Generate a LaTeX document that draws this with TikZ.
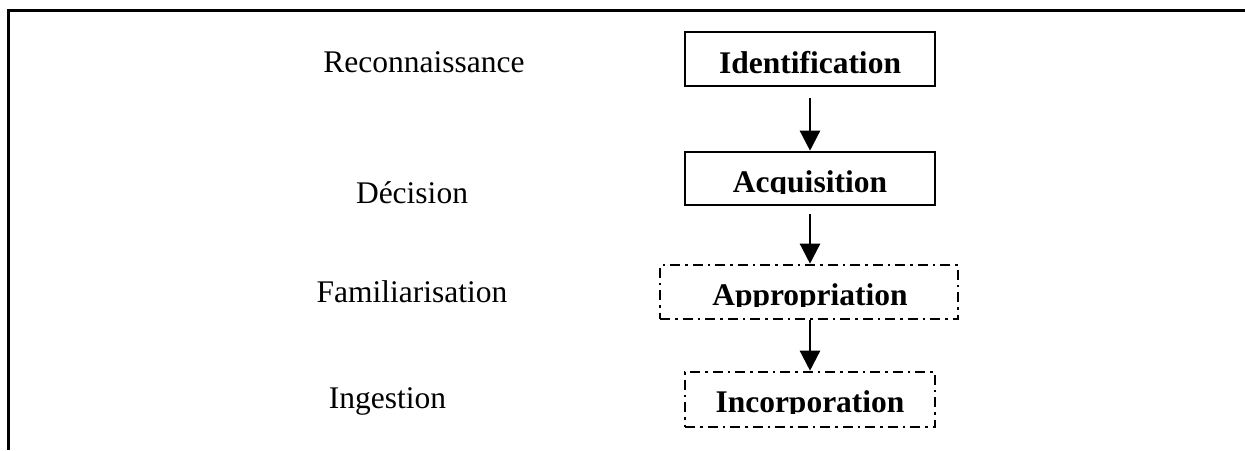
\documentclass[tikz,border=0pt]{standalone}
\usepackage{fontspec}
\setmainfont{Liberation Serif}
\usetikzlibrary{arrows.meta}
\begin{document}
\begin{tikzpicture}[x=1pt,y=-1pt,
  stage/.style={draw, line width=2.6pt, minimum width=250pt, minimum height=54pt, inner sep=0pt},
  softstage/.style={stage, dash pattern=on 10pt off 5pt on 2.5pt off 5pt},
  boxtext/.style={anchor=base, font=\fontsize{31.5}{36}\selectfont\bfseries, inner sep=0pt},
  sidetext/.style={anchor=base, font=\fontsize{31.5}{36}\selectfont, inner sep=0pt},
  flow/.style={line width=2.4pt, -{Triangle[width=20pt,length=20pt]}}]
\useasboundingbox (0,0) rectangle (1245,450);

% frame
\coordinate (ftop) at (1245,10);
\coordinate (fcorner) at (8,10);
\coordinate (fbottom) at (8,450);
\draw[line width=3pt] (ftop) -- (fcorner) -- (fbottom);

% stages
\node[stage] (ident) at (810,59) {};
\node[stage, minimum height=53pt] (acq) at (810,178.5) {};
\node[softstage, minimum width=298pt] (appr) at (809,292) {};
\node[softstage, minimum height=55pt] (incorp) at (810,399.5) {};

\node[boxtext] (identtxt) at (810,73) {Identification};
\begin{scope}
  \clip (686,153) rectangle (934,193);
  \node[boxtext] (acqtxt) at (810,192) {Acquisition};
\end{scope}
\begin{scope}
  \clip (661,266) rectangle (957,306);
  \node[boxtext] (apprtxt) at (810,305) {Appropriation};
\end{scope}
\begin{scope}
  \clip (686,373) rectangle (934,413);
  \node[boxtext] (incorptxt) at (810,412) {Incorporation};
\end{scope}

% side labels
\node[sidetext] (reco) at (424,72) {Reconnaissance};
\node[sidetext] (deci) at (412,203) {Décision};
\node[sidetext] (fami) at (412,302) {Familiarisation};
\node[sidetext] (inge) at (387.5,408) {Ingestion};

% connectors
\draw[flow, shorten <=11pt] (ident.south) -- (acq.north);
\draw[flow, shorten <=8pt] (acq.south) -- (acq.south |- appr.north);
\draw[flow] (acq.south |- appr.south) -- (incorp.north);
\end{tikzpicture}
\end{document}
